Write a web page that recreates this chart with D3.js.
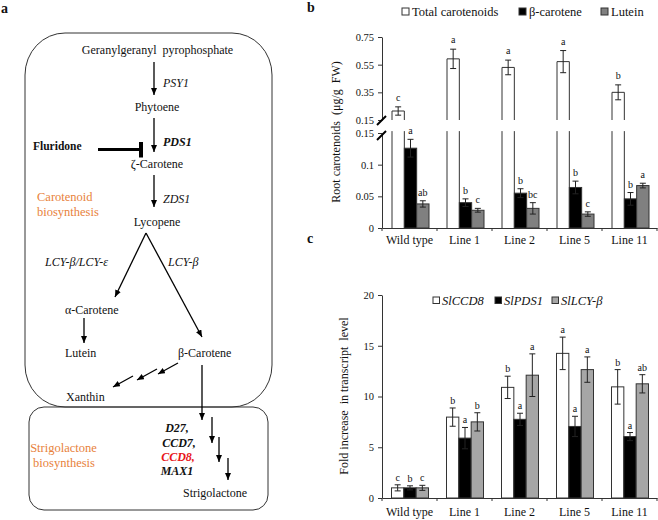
<!DOCTYPE html>
<html><head><meta charset="utf-8">
<script src="https://cdn.jsdelivr.net/npm/d3@7"></script>
<style>
body{margin:0;background:#fff}
text{font-family:"Liberation Serif","Times New Roman",serif;fill:#111}
</style>
</head><body>
<svg id="fig" width="658" height="520"></svg>
<script>
// ---------- DATA ----------
const categories = ["Wild type", "Line 1", "Line 2", "Line 5", "Line 11"];

// panel b: root carotenoids (µg/g FW)
const bSeries = ["Total carotenoids", "β-carotene", "Lutein"];
const totalCarot    = [0.215, 0.592, 0.530, 0.572, 0.350];
const totalCarotErr = [0.030, 0.070, 0.053, 0.080, 0.054];
const totalCarotSig = ["c", "a", "a", "a", "b"];
const betaCarot     = [0.126, 0.040, 0.055, 0.064, 0.046];
const betaCarotErr  = [0.014, 0.006, 0.007, 0.010, 0.010];
const betaCarotSig  = ["a", "b", "b", "b", "b"];
const lutein        = [0.038, 0.028, 0.031, 0.022, 0.067];
const luteinErr     = [0.005, 0.003, 0.009, 0.0035, 0.0037];
const luteinSig     = ["ab", "c", "bc", "c", "a"];
const bUpperTicks = [0.15, 0.35, 0.55, 0.75];
const bLowerTicks = [0, 0.05, 0.1, 0.15];
const bBreak = 0.15;

// panel c: fold increase in transcript level
const cSeries = ["SlCCD8", "SlPDS1", "SlLCY-β"];
const ccd8     = [1.0, 7.97, 10.9, 14.25, 10.95];
const ccd8Err  = [0.3, 0.9, 1.1, 1.6, 1.7];
const ccd8Sig  = ["c", "b", "b", "a", "b"];
const pds1     = [1.0, 5.9, 7.75, 7.05, 6.05];
const pds1Err  = [0.2, 1.05, 0.6, 1.0, 0.4];
const pds1Sig  = ["b", "a", "a", "a", "a"];
const lcyb     = [1.0, 7.5, 12.1, 12.65, 11.25];
const lcybErr  = [0.25, 0.9, 2.1, 1.25, 0.9];
const lcybSig  = ["c", "b", "a", "a", "ab"];
const cTicks = [0, 5, 10, 15, 20];

// ---------- SETUP ----------
const svg = d3.select("#fig");
const serif = '"Liberation Serif","Times New Roman",serif';
const ORANGE = "#e8823c", RED = "#e8161b", STROKE = "#333";

svg.append("defs").append("marker")
  .attr("id", "ah").attr("viewBox", "0 0 7 6").attr("refX", 7).attr("refY", 3)
  .attr("markerWidth", 7).attr("markerHeight", 6).attr("markerUnits", "userSpaceOnUse")
  .attr("orient", "auto")
  .append("path").attr("d", "M0,0L7,3L0,6Z").attr("fill", "#000");

// panel letters
[["a", 1, 13], ["b", 307, 12], ["c", 307, 243]].forEach(([t, x, y]) =>
  svg.append("text").attr("x", x).attr("y", y).text(t)
    .attr("font-size", 14).attr("font-weight", "bold"));

// ---------- PANEL A (pathway diagram) ----------
const gA = svg.append("g");
gA.append("rect").attr("x", 25).attr("y", 33).attr("width", 247).attr("height", 374)
  .attr("rx", 40).attr("ry", 42).attr("fill", "none").attr("stroke", STROKE).attr("stroke-width", 1);
gA.append("rect").attr("x", 29).attr("y", 407).attr("width", 239).attr("height", 103)
  .attr("rx", 15).attr("fill", "none").attr("stroke", STROKE).attr("stroke-width", 1);

const arrows = [
  [154, 62, 154, 95], [154, 118, 154, 152], [154, 175, 154, 207],
  [146, 233, 115, 297], [146, 233, 202, 337],
  [84, 318, 84, 343],
  [178, 363, 158, 374], [157, 369, 137, 380], [133, 376, 113, 387],
  [202, 365, 202, 420],
  [212, 417, 212, 443], [219, 437, 219, 462], [228, 458, 228, 480]
];
gA.selectAll("line.arr").data(arrows).join("line").attr("class", "arr")
  .attr("x1", d => d[0]).attr("y1", d => d[1]).attr("x2", d => d[2]).attr("y2", d => d[3])
  .attr("stroke", "#000").attr("stroke-width", 1.3).attr("marker-end", "url(#ah)");

// fluridone inhibition
gA.append("line").attr("x1", 98).attr("y1", 149.5).attr("x2", 141).attr("y2", 149.5)
  .attr("stroke", "#000").attr("stroke-width", 3);
gA.append("line").attr("x1", 141).attr("y1", 142).attr("x2", 141).attr("y2", 157.5)
  .attr("stroke", "#000").attr("stroke-width", 4);

const labelsA = [
  {t: "Geranylgeranyl  pyrophosphate", x: 157.5, y: 54, a: "middle"},
  {t: "PSY1", x: 163, y: 87, st: "italic"},
  {t: "Phytoene", x: 157, y: 111, a: "middle"},
  {t: "PDS1", x: 163, y: 146, st: "italic", w: "bold"},
  {t: "Fluridone", x: 33, y: 150, w: "bold", fs: 11.5},
  {t: "ζ-Carotene", x: 157, y: 168, a: "middle"},
  {t: "ZDS1", x: 163, y: 203, st: "italic"},
  {t: "Carotenoid", x: 37, y: 201, c: ORANGE, fs: 12.5},
  {t: "biosynthesis", x: 37, y: 216, c: ORANGE, fs: 12.5},
  {t: "Lycopene", x: 157, y: 226, a: "middle"},
  {t: "LCY-β/LCY-ε", x: 45, y: 266, st: "italic"},
  {t: "LCY-β", x: 168, y: 266, st: "italic"},
  {t: "α-Carotene", x: 65, y: 314},
  {t: "Lutein", x: 65, y: 357},
  {t: "β-Carotene", x: 178, y: 357},
  {t: "Xanthin", x: 66, y: 401},
  {t: "D27,", x: 177, y: 432, a: "middle", st: "italic", w: "bold"},
  {t: "CCD7,", x: 179, y: 447, a: "middle", st: "italic", w: "bold"},
  {t: "CCD8,", x: 178, y: 461, a: "middle", st: "italic", w: "bold", c: RED},
  {t: "MAX1", x: 177, y: 475, a: "middle", st: "italic", w: "bold"},
  {t: "Strigolactone", x: 63.5, y: 452, a: "middle", c: ORANGE, fs: 12.5},
  {t: "biosynthesis", x: 64, y: 467, a: "middle", c: ORANGE, fs: 12.5},
  {t: "Strigolactone", x: 183, y: 497}
];
gA.selectAll("text.lab").data(labelsA).join("text").attr("class", "lab")
  .attr("x", d => d.x).attr("y", d => d.y).text(d => d.t)
  .attr("text-anchor", d => d.a || "start")
  .attr("font-style", d => d.st || "normal")
  .attr("font-weight", d => d.w || "normal")
  .attr("font-size", d => d.fs || 12)
  .style("fill", d => d.c || "#111")
  .style("white-space", "pre");

// ---------- shared x scale ----------
const x = d3.scaleBand().domain(categories).range([382, 657]);

function errorBar(g, cx, yTop, yBot) {
  g.append("line").attr("x1", cx).attr("x2", cx).attr("y1", yTop).attr("y2", yBot)
    .attr("stroke", "#222").attr("stroke-width", 1);
  [yTop, yBot].forEach(yy => g.append("line").attr("x1", cx - 3).attr("x2", cx + 3)
    .attr("y1", yy).attr("y2", yy).attr("stroke", "#222").attr("stroke-width", 1));
}
function sigLabel(g, cx, y, t) {
  g.append("text").attr("x", cx).attr("y", y).text(t).attr("text-anchor", "middle")
    .attr("font-size", 10);
}
function xAxisAt(g, yPos, pad) {
  const ax = g.append("g").attr("transform", `translate(0,${yPos})`)
    .call(d3.axisBottom(x).tickSize(0).tickPadding(pad).tickSizeOuter(0));
  ax.select(".domain").attr("stroke", STROKE);
  ax.selectAll("text").attr("font-family", serif).attr("font-size", 12).style("fill", "#111");
  const bounds = categories.map(c => x(c)).concat([x.range()[1]]);
  g.selectAll(null).data(bounds).join("line")
    .attr("x1", d => d).attr("x2", d => d).attr("y1", yPos).attr("y2", yPos + 3)
    .attr("stroke", STROKE);
}
function styleYAxis(ax) {
  ax.select(".domain").attr("stroke", STROKE);
  ax.selectAll(".tick line").attr("stroke", STROKE);
  ax.selectAll("text").attr("font-family", serif).attr("font-size", 10.5).style("fill", "#111");
}

// ---------- PANEL B ----------
const gB = svg.append("g");
const xb = d3.scaleBand().domain(bSeries).range([10, 47]);
const yUp = d3.scaleLinear().domain([bBreak, 0.75]).range([120, 37]);
const yLo = d3.scaleLinear().domain([0, bBreak]).range([228, 133]);
const bw = xb.bandwidth();

categories.forEach((cat, i) => {
  const x0 = x(cat);
  // total carotenoids (white, broken across the two segments)
  const wx = x0 + xb(bSeries[0]);
  gB.append("path")
    .attr("d", `M${wx},${yUp(bBreak)}V${yUp(totalCarot[i])}H${wx + bw}V${yUp(bBreak)}`)
    .attr("fill", "#fff").attr("stroke", STROKE);
  gB.append("path")
    .attr("d", `M${wx},${yLo(0)}V${yLo(0.153)}M${wx + bw},${yLo(0)}V${yLo(0.153)}`)
    .attr("fill", "none").attr("stroke", STROKE);
  errorBar(gB, wx + bw / 2, yUp(totalCarot[i] + totalCarotErr[i]), yUp(totalCarot[i] - totalCarotErr[i]));
  sigLabel(gB, wx + bw / 2, yUp(totalCarot[i] + totalCarotErr[i]) - 6, totalCarotSig[i]);
  // beta-carotene (black) and lutein (gray)
  [[betaCarot, betaCarotErr, betaCarotSig, "#000", bSeries[1]],
   [lutein, luteinErr, luteinSig, "#808080", bSeries[2]]].forEach(([v, e, s, fill, name]) => {
    const bx = x0 + xb(name);
    gB.append("rect").attr("x", bx).attr("y", yLo(v[i])).attr("width", bw)
      .attr("height", yLo(0) - yLo(v[i])).attr("fill", fill).attr("stroke", STROKE);
    errorBar(gB, bx + bw / 2, yLo(v[i] + e[i]), yLo(v[i] - e[i]));
    sigLabel(gB, bx + bw / 2, yLo(v[i] + e[i]) - 5, s[i]);
  });
});

const axUp = gB.append("g").attr("transform", "translate(382,0)")
  .call(d3.axisLeft(yUp).tickValues(bUpperTicks).tickFormat(d3.format(".2f"))
    .tickSize(4).tickPadding(4).tickSizeOuter(0));
styleYAxis(axUp);
const axLo = gB.append("g").attr("transform", "translate(382,0)")
  .call(d3.axisLeft(yLo).tickValues(bLowerTicks).tickFormat(d => String(d))
    .tickSize(4).tickPadding(4).tickSizeOuter(0));
styleYAxis(axLo);
// break marks
[[yUp(bBreak)], [yLo(bBreak)]].forEach(([yy], k) =>
  gB.append("line").attr("x1", 377).attr("y1", yy + 5 + k * 2).attr("x2", 386).attr("y2", yy - 4 + k * 2)
    .attr("stroke", "#000").attr("stroke-width", 2));
xAxisAt(gB, 228, 7.5);

gB.append("text").attr("transform", "translate(339.5,132) rotate(-90)")
  .attr("text-anchor", "middle").attr("font-size", 12).style("white-space", "pre")
  .text("Root carotenoids  (μg/g  FW)");

// legend b
const legB = [
  {name: bSeries[0], fill: "#fff", bx: 402, tx: 412},
  {name: bSeries[1], fill: "#000", bx: 519, tx: 529},
  {name: bSeries[2], fill: "#808080", bx: 601, tx: 611}
];
legB.forEach(d => {
  gB.append("rect").attr("x", d.bx).attr("y", 8).attr("width", 7).attr("height", 7)
    .attr("fill", d.fill).attr("stroke", STROKE);
  gB.append("text").attr("x", d.tx).attr("y", 15.5).text(d.name).attr("font-size", 12.5);
});

// ---------- PANEL C ----------
const gC = svg.append("g");
const xc = d3.scaleBand().domain(cSeries).range([9.5, 46.5]);
const yC = d3.scaleLinear().domain([0, 20]).range([498, 295]);
const cw = xc.bandwidth();
const cData = [
  [ccd8, ccd8Err, ccd8Sig, "#fff", cSeries[0]],
  [pds1, pds1Err, pds1Sig, "#000", cSeries[1]],
  [lcyb, lcybErr, lcybSig, "#a6a6a6", cSeries[2]]
];
categories.forEach((cat, i) => {
  cData.forEach(([v, e, s, fill, name]) => {
    const bx = x(cat) + xc(name);
    gC.append("rect").attr("x", bx).attr("y", yC(v[i])).attr("width", cw)
      .attr("height", yC(0) - yC(v[i])).attr("fill", fill).attr("stroke", STROKE);
    errorBar(gC, bx + cw / 2, yC(v[i] + e[i]), yC(v[i] - e[i]));
    sigLabel(gC, bx + cw / 2, yC(v[i] + e[i]) - 4, s[i]);
  });
});
const axC = gC.append("g").attr("transform", "translate(382,0)")
  .call(d3.axisLeft(yC).tickValues(cTicks).tickSize(4).tickPadding(4).tickSizeOuter(0));
styleYAxis(axC);
xAxisAt(gC, 498, 9.5);

gC.append("text").attr("transform", "translate(347.5,396) rotate(-90)")
  .attr("text-anchor", "middle").attr("font-size", 12).style("white-space", "pre")
  .text("Fold increase  in transcript  level");

const legC = [
  {name: cSeries[0], fill: "#fff", bx: 433, tx: 442},
  {name: cSeries[1], fill: "#000", bx: 495, tx: 504},
  {name: cSeries[2], fill: "#a6a6a6", bx: 552, tx: 561}
];
legC.forEach(d => {
  gC.append("rect").attr("x", d.bx).attr("y", 297).attr("width", 6.5).attr("height", 6.5)
    .attr("fill", d.fill).attr("stroke", STROKE);
  gC.append("text").attr("x", d.tx).attr("y", 304.5).text(d.name)
    .attr("font-size", 12.5).attr("font-style", "italic");
});
</script>
</body></html>
